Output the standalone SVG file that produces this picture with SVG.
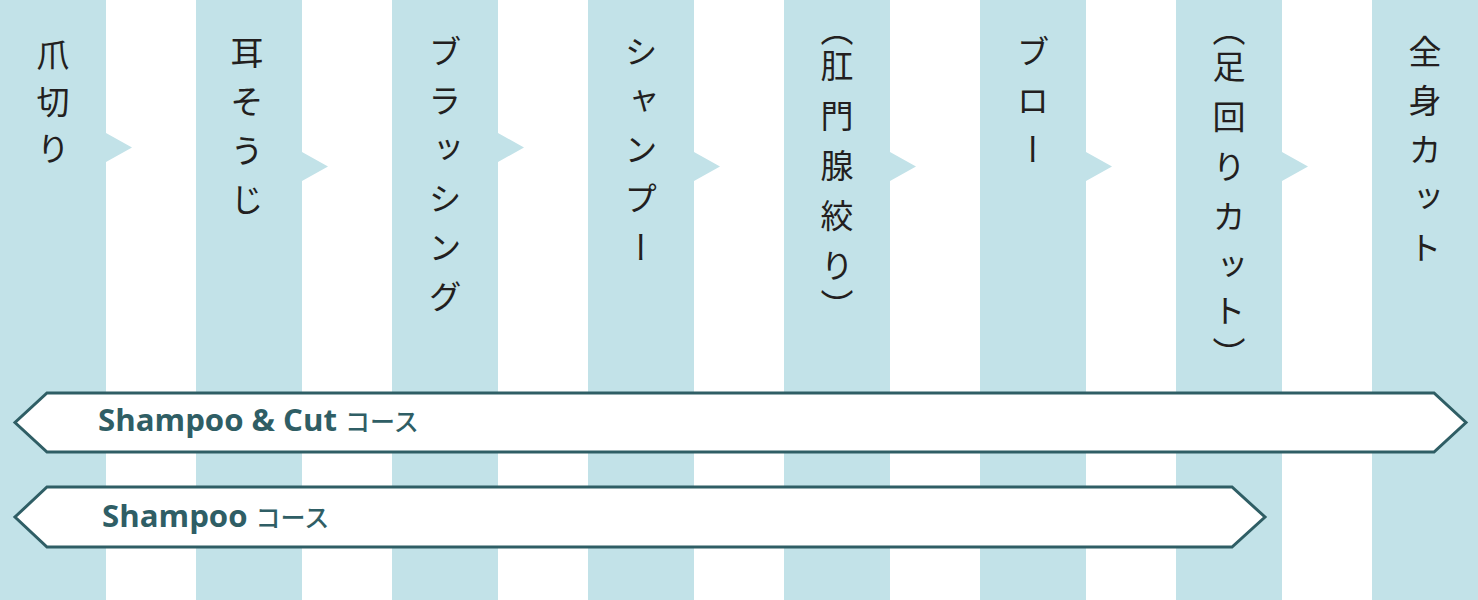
<svg xmlns="http://www.w3.org/2000/svg" width="1478" height="600" viewBox="0 0 1478 600">
<style>
.col{fill:#c2e2e8}
.lbl{font-family:"Noto Sans CJK JP","Noto Sans",sans-serif;font-size:33px;fill:#231f20;writing-mode:vertical-rl}
.course{fill:#ffffff;stroke:#2f5e65;stroke-width:3;stroke-linejoin:miter}
.ctext{font-family:"Open Sans","Noto Sans CJK JP",sans-serif;font-size:31.2px;font-weight:700;fill:#2f5e65}
.kana{font-family:"Noto Sans CJK JP",sans-serif;font-weight:500;font-size:25px}
</style>
<rect width="1478" height="600" fill="#ffffff"/>
<g id="step1"><polygon class="col" points="0,0 106,0 106,133 132,147.5 106,162 106,600 0,600"/>
<text class="lbl" x="53" y="38 85 132">爪切り</text></g>
<g id="step2"><polygon class="col" points="196,0 302,0 302,152 328,166.5 302,181 302,600 196,600"/>
<text class="lbl" x="247" y="36 85 134 183">耳そうじ</text></g>
<g id="step3"><polygon class="col" points="392,0 498,0 498,133 524,147.5 498,162 498,600 392,600"/>
<text class="lbl" x="445" y="35 84 133 182 231 280">ブラッシング</text></g>
<g id="step4"><polygon class="col" points="588,0 694,0 694,152 720,166.5 694,181 694,600 588,600"/>
<text class="lbl" x="641" y="35 84 133 182 231">シャンプー</text></g>
<g id="step5"><polygon class="col" points="784,0 890,0 890,152 916,166.5 890,181 890,600 784,600"/>
<text class="lbl" x="837" y="13 49 99 149 199 249 289">（肛門腺絞り）</text></g>
<g id="step6"><polygon class="col" points="980,0 1086,0 1086,152 1112,166.5 1086,181 1086,600 980,600"/>
<text class="lbl" x="1033" y="35 84 133">ブロー</text></g>
<g id="step7"><polygon class="col" points="1176,0 1282,0 1282,152 1308,166.5 1282,181 1282,600 1176,600"/>
<text class="lbl" x="1229" y="13 50 100 150 200 250 294 337">（足回りカット）</text></g>
<g id="step8"><rect class="col" x="1372" y="0" width="106" height="600"/>
<text class="lbl" x="1425" y="35 84 133 182 231">全身カット</text></g>
<g id="courses">
<g id="course-shampoo-cut"><polygon class="course" points="47,393 1434,393 1466,422.5 1434,452 47,452 15,422.5"/>
<text class="ctext" x="98" y="431">Shampoo &amp; Cut <tspan class="kana">コース</tspan></text></g>
<g id="course-shampoo"><polygon class="course" points="47,487 1232,487 1265,517 1232,547 47,547 15,517"/>
<text class="ctext" x="102" y="527">Shampoo <tspan class="kana">コース</tspan></text></g>
</g>
</svg>
